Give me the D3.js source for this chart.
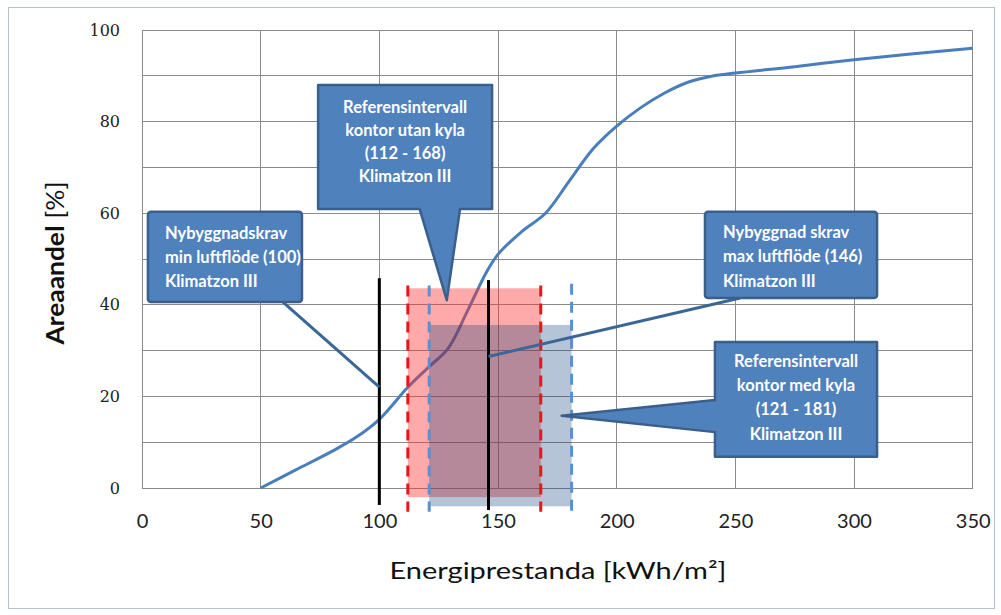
<!DOCTYPE html>
<html><head><meta charset="utf-8">
<script src="https://cdn.jsdelivr.net/npm/d3@7"></script>
<style>
html,body{margin:0;padding:0;background:#fff;}
svg{display:block;}
</style></head>
<body>
<script>
// ---- data ----
const curveX = [50, 65, 80, 90, 100, 112, 121, 129, 137, 145, 150, 160, 170, 180, 190, 200, 210, 220, 230, 240, 250, 275, 300, 325, 350];
const curveY = [0, 4, 8, 11, 15, 22, 26.5, 30.5, 38.5, 47, 51, 56, 60, 67, 74, 79, 83, 86.2, 88.6, 89.9, 90.6, 92, 93.5, 94.8, 96];
const xTicks = [0, 50, 100, 150, 200, 250, 300, 350];
const yTicks = [0, 20, 40, 60, 80, 100];
const yGrid = [0, 10, 20, 30, 40, 50, 60, 70, 80, 90, 100];
const xGrid = [50, 100, 150, 200, 250, 300];
// reference intervals [x0, x1, top, bottom]
const intervalUtanKyla = [112, 168, 43.6, -2];
const intervalMedKyla = [121, 181, 35.6, -4];
// requirement lines [x, top, bottom]
const reqMin = [100, 45.8, -3.7];
const reqMax = [146, 45.4, -4.8];
const xLabel = "Energiprestanda [kWh/m²]";
const yLabelMain = "Areaandel";
const yLabelUnit = " [%]";
const callout1 = ["Nybyggnadskrav", "min luftflöde (100)", "Klimatzon III"];
const callout2 = ["Referensintervall", "kontor utan kyla", "(112 - 168)", "Klimatzon III"];
const callout3 = ["Nybyggnad skrav", "max luftflöde (146)", "Klimatzon III"];
const callout4 = ["Referensintervall", "kontor med kyla", "(121 - 181)", "Klimatzon III"];

// ---- layout ----
const W = 1001, H = 615;
const svg = d3.select("body").append("svg").attr("width", W).attr("height", H);
const x = d3.scaleLinear().domain([0, 350]).range([142, 972.7]);
const y = d3.scaleLinear().domain([0, 100]).range([488, 30]);

// outer frame
svg.append("rect").attr("x", 8.5).attr("y", 7.5).attr("width", 986).attr("height", 601)
  .attr("fill", "#fff").attr("stroke", "#b4c0cc").attr("stroke-width", 1);

const grid = svg.append("g").attr("stroke", "#8a8a8a").attr("stroke-width", 1).attr("shape-rendering", "crispEdges");
grid.selectAll(".hy").data(yGrid).join("line")
  .attr("x1", x(0)).attr("x2", x(350)).attr("y1", d => y(d)).attr("y2", d => y(d));
grid.selectAll(".vx").data(xGrid).join("line")
  .attr("x1", d => x(d)).attr("x2", d => x(d)).attr("y1", y(0)).attr("y2", y(100));
grid.append("rect").attr("x", x(0)).attr("y", y(100)).attr("width", x(350) - x(0)).attr("height", y(0) - y(100))
  .attr("fill", "none");

// axes (tick labels via d3 axis)
const yAxis = svg.append("g").attr("transform", `translate(${x(0) - 22},0)`)
  .call(d3.axisLeft(y).tickValues(yTicks).tickSize(0).tickPadding(0));
yAxis.select(".domain").remove();
yAxis.selectAll("text").attr("font-family", "'DejaVu Serif', serif").attr("font-size", 16).attr("fill", "#222");

const xAxis = svg.append("g").attr("transform", `translate(0,${y(0) + 22})`)
  .call(d3.axisBottom(x).tickValues(xTicks).tickSize(0).tickPadding(0));
xAxis.select(".domain").remove();
xAxis.selectAll("text").attr("font-family", "Lato, sans-serif").attr("font-size", 20).attr("fill", "#222")
  .attr("dy", "0.9em");

// curve
const pts = curveX.map((d, i) => [d, curveY[i]]);
svg.append("path").datum(pts)
  .attr("d", d3.line().x(d => x(d[0])).y(d => y(d[1])).curve(d3.curveCatmullRom.alpha(0.5)))
  .attr("fill", "none").attr("stroke", "#4a7ebb").attr("stroke-width", 3);

// reference interval rects
function rectFor(iv, fill, op) {
  svg.append("rect").attr("x", x(iv[0])).attr("y", y(iv[2]))
    .attr("width", x(iv[1]) - x(iv[0])).attr("height", y(iv[3]) - y(iv[2]))
    .attr("fill", fill).attr("fill-opacity", op);
}
rectFor(intervalUtanKyla, "#ff2a2a", 0.40);
rectFor(intervalMedKyla, "#0a3a78", 0.30);

// dashed lines
function dashed(xv, top, bottom, color) {
  svg.append("line").attr("x1", x(xv)).attr("x2", x(xv)).attr("y1", y(top)).attr("y2", y(bottom))
    .attr("stroke", color).attr("stroke-width", 3).attr("stroke-dasharray", "11,7");
}
dashed(intervalUtanKyla[0], 44.2, -5.2, "#e8161b");
dashed(intervalUtanKyla[1], 44.2, -5.2, "#e8161b");
dashed(intervalMedKyla[0], 44.2, -5.2, "#5a8fd3");
dashed(intervalMedKyla[1], 44.6, -5.2, "#5a8fd3");

// requirement lines
[reqMin, reqMax].forEach(r => {
  svg.append("line").attr("x1", x(r[0])).attr("x2", x(r[0])).attr("y1", y(r[1])).attr("y2", y(r[2]))
    .attr("stroke", "#000").attr("stroke-width", 3);
});

// callouts
const boxFill = "#4f81bd", boxStroke = "#3a5f8b";
function pointerLine(x1, y1, x2, y2) {
  svg.append("line").attr("x1", x(x1)).attr("y1", y(y1)).attr("x2", x(x2)).attr("y2", y(y2))
    .attr("stroke", "#3b6698").attr("stroke-width", 3);
}
function boxText(lines, left, right, top, anchor, dx, base, lh) {
  const l = x(left), r = x(right), t = y(top);
  const g = svg.append("g").attr("font-family", "Lato, sans-serif").attr("font-weight", "bold")
    .attr("font-size", 16.5).attr("fill", "#fff");
  lines.forEach((s, i) => {
    g.append("text").attr("x", anchor === "middle" ? (l + r) / 2 : l + dx)
      .attr("y", t + base + i * lh).attr("text-anchor", anchor).text(s);
  });
}
function plainBox(left, right, top, bottom) {
  svg.append("rect").attr("x", x(left)).attr("y", y(top)).attr("width", x(right) - x(left))
    .attr("height", y(bottom) - y(top)).attr("rx", 3)
    .attr("fill", boxFill).attr("stroke", boxStroke).attr("stroke-width", 2.5);
}

// callout 1
pointerLine(59.4, 40.6, 100, 22);
plainBox(2.5, 67.4, 60.3, 40.6);
boxText(callout1, 2.5, 67.4, 60.3, "start", 17, 27, 24);

// callout 3
pointerLine(252, 41.5, 146, 28.7);
plainBox(237.2, 309.7, 60.3, 41.5);
boxText(callout3, 237.2, 309.7, 60.3, "start", 18, 26, 24.5);

// callout 2 (wedge down)
{
  const L = x(74.2), R = x(147.5), T = y(88), B = y(60.9);
  const p = d3.path();
  p.moveTo(L, T); p.lineTo(R, T); p.lineTo(R, B); p.lineTo(x(134), B);
  p.lineTo(x(128.4), y(41)); p.lineTo(x(117), B); p.lineTo(L, B); p.closePath();
  svg.append("path").attr("d", p.toString()).attr("fill", boxFill).attr("stroke", boxStroke)
    .attr("stroke-width", 2.5).attr("stroke-linejoin", "round");
  boxText(callout2, 74.2, 147.5, 88, "middle", 0, 28, 23);
}
// callout 4 (wedge left)
{
  const L = x(241.4), R = x(309.7), T = y(31.9), B = y(6.8);
  const p = d3.path();
  p.moveTo(L, T); p.lineTo(R, T); p.lineTo(R, B); p.lineTo(L, B);
  p.lineTo(L, y(12.2)); p.lineTo(x(176.8), y(15.8)); p.lineTo(L, y(19.2)); p.closePath();
  svg.append("path").attr("d", p.toString()).attr("fill", boxFill).attr("stroke", boxStroke)
    .attr("stroke-width", 2.5).attr("stroke-linejoin", "round");
  boxText(callout4, 241.4, 309.7, 31.9, "middle", 0, 25, 24.3);
}

// axis titles
svg.append("text").attr("x", 558).attr("y", 579).attr("text-anchor", "middle")
  .attr("font-family", "Lato, sans-serif").attr("font-size", 24).attr("fill", "#111")
  .attr("textLength", 337).attr("lengthAdjust", "spacingAndGlyphs").text(xLabel);

const yt = svg.append("text").attr("transform", "translate(64,263) rotate(-90)").attr("text-anchor", "middle")
  .attr("font-family", "Lato, sans-serif").attr("font-size", 25).attr("fill", "#111")
  .attr("textLength", 163).attr("lengthAdjust", "spacingAndGlyphs");
yt.append("tspan").attr("font-weight", "bold").text(yLabelMain);
yt.append("tspan").attr("font-weight", "normal").text(yLabelUnit);
</script>
</body></html>
